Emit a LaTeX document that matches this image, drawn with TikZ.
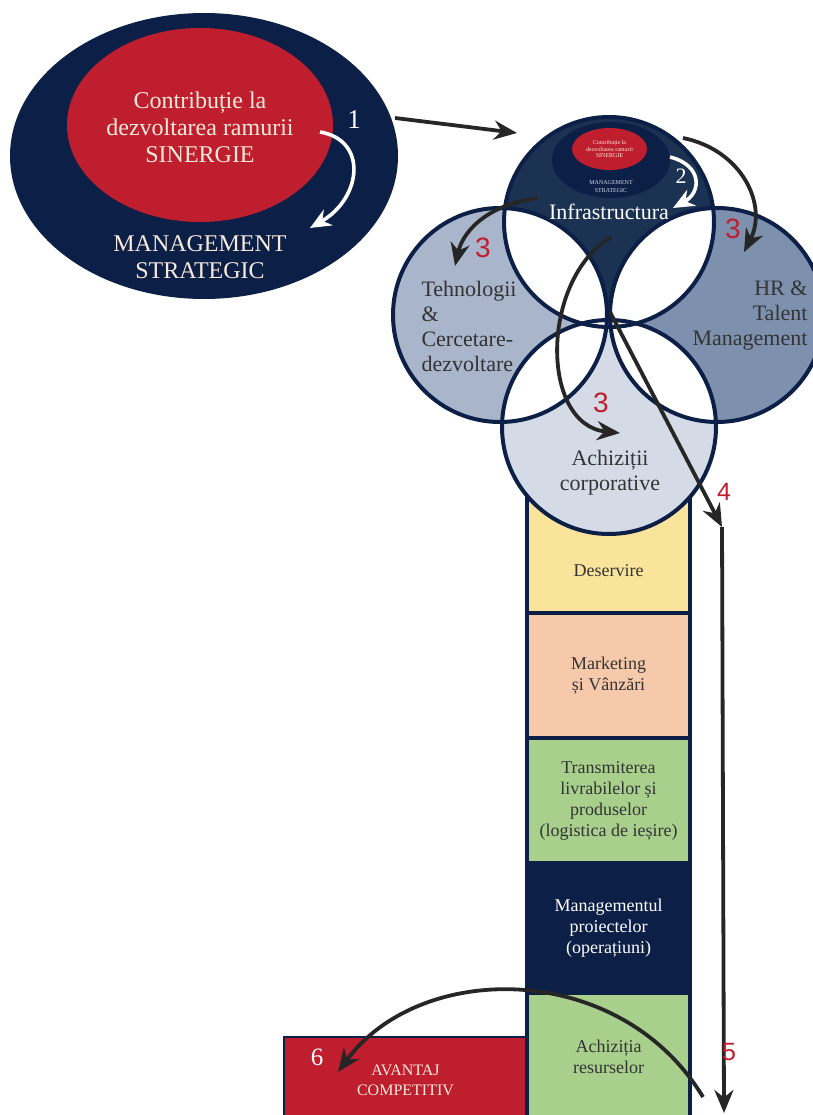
\documentclass[tikz,border=0pt]{standalone}
\usepackage{fontspec}
\setmainfont{Liberation Serif}
\newfontfamily\numfont{Liberation Sans}
\usepackage{xcolor}
\usetikzlibrary{arrows.meta,shapes.geometric,positioning}
\definecolor{sgnavy}{HTML}{0C1F47}
\definecolor{sgtop}{HTML}{1C3253}
\definecolor{sgred}{HTML}{BF1E2E}
\definecolor{sgcream}{HTML}{F8EADB}
\definecolor{sgleft}{HTML}{A8B5CA}
\definecolor{sgright}{HTML}{7D91AF}
\definecolor{sgbot}{HTML}{D4DBE6}
\definecolor{sgyellow}{HTML}{FAE49C}
\definecolor{sgpeach}{HTML}{F7C9AB}
\definecolor{sggreen}{HTML}{A9CF8D}
\definecolor{sgtext}{HTML}{333333}

\begin{document}
\begin{tikzpicture}[x=1pt, y=-1pt,
  stage/.style={draw=sgnavy, line width=3.2pt, minimum width=163pt, outer sep=0pt,
                inner sep=0pt, text=sgtext, align=center, font=\fontsize{18}{21}\selectfont},
  arr/.style={draw=black!85, line width=3.8pt, -{Stealth[length=23pt, width=19pt]}},
  warr/.style={draw=white, line width=3.6pt, -{Stealth[length=21pt, width=18pt]}},
  num/.style={text=sgred, font=\numfont\fontsize{28}{28}\selectfont},
  wnum/.style={text=white, font=\fontsize{27}{27}\selectfont},
  vlab/.style={text=sgtext, align=left, font=\fontsize{22}{25}\selectfont}]

  \useasboundingbox (0,0) rectangle (812,1115);

  % value chain
  \node[draw=sgnavy, line width=2.8pt, fill=sgred, minimum width=243pt, minimum height=86pt,
        anchor=north east, outer sep=0pt, text=sgcream, align=center,
        font=\fontsize{16}{20}\selectfont] (av) at (527,1037) {AVANTAJ\\COMPETITIV};
  \node[stage, fill=sgyellow, minimum height=133pt, anchor=north] (des) at (608.5,480) {};
  \node[stage, fill=sgpeach, minimum height=125pt, below=0pt of des] (mkt) {Marketing\\și Vânzări};
  \node[stage, fill=sggreen, minimum height=125pt, below=0pt of mkt] (trn)
       {Transmiterea\\livrabilelor și\\produselor\\(logistica de ieșire)};
  \node[stage, fill=sgnavy, text=white, minimum height=130pt, below=0pt of trn] (mgp)
       {Managementul\\proiectelor\\(operațiuni)};
  \node[stage, fill=sggreen, minimum height=130pt, below=0pt of mgp] (acz) {};
  \node[stage, draw=none, fill=none] (desl) at (608.5,571) {Deservire};
  \node[stage, draw=none, fill=none] (aczl) at (608.5,1057) {Achiziția\\resurselor};

  % activities
  \coordinate (tc) at (609,222);
  \coordinate (lc) at (500,315);
  \coordinate (rc) at (717,315);
  \coordinate (bc) at (609,427);
  \fill[sgtop] (tc) circle[radius=105pt];
  \fill[sgleft] (lc) circle[radius=107pt];
  \fill[sgright] (rc) circle[radius=107pt];
  \fill[sgbot] (bc) circle[radius=107pt];
  \foreach \a/\ra/\b/\rb in {tc/105/lc/107, tc/105/rc/107, bc/107/lc/107,
                             bc/107/rc/107, lc/107/rc/107, tc/105/bc/107}{
    \begin{scope}
      \clip (\a) circle[radius=\ra pt];
      \fill[white] (\b) circle[radius=\rb pt];
    \end{scope}}
  \foreach \c/\r in {tc/105, lc/107, rc/107, bc/107}{
    \draw[sgnavy, line width=4pt] (\c) circle[radius=\r pt];}

  \node[ellipse, fill=sgnavy, minimum width=118pt, minimum height=76pt] (ms) at (611,160) {};
  \node[ellipse, fill=sgred, minimum width=75pt, minimum height=42pt, inner sep=0pt,
        text=sgcream, align=center, font=\fontsize{6}{6.5}\selectfont] (cs) at (609.5,149)
       {Contribuție la\\dezvoltarea ramurii\\SINERGIE};
  \node[text=sgbot, align=center, font=\fontsize{6}{8}\selectfont] (mst) at (611,187)
       {MANAGEMENT\\STRATEGIC};
  \node[text=white, font=\fontsize{22}{25}\selectfont] (inf) at (609,212) {Infrastructura};
  \node[vlab, anchor=west] (teh) at (418,326) {Tehnologii\\\&\\Cercetare-\\dezvoltare};
  \node[vlab, anchor=east, align=right] (hr) at (811,316) {HR \&\\Talent\\Management};
  \node[vlab, align=center] (acp) at (610,473) {Achiziții\\corporative};

  % synergy
  \node[ellipse, fill=sgnavy, minimum width=388pt, minimum height=286pt] (sm) at (204,156) {};
  \node[ellipse, fill=sgred, minimum width=266pt, minimum height=194pt] (sg) at (200,125) {};
  \node[text=sgcream, align=center, font=\fontsize{24}{27}\selectfont] (sgt) at (200,127)
       {Contribuție la\\dezvoltarea ramurii\\SINERGIE};
  \node[text=sgcream, align=center, font=\fontsize{24}{27}\selectfont] (smt) at (200,257)
       {MANAGEMENT\\STRATEGIC};

  % flow
  \coordinate (w1s) at (320,132);
  \coordinate (w1e) at (310,228);
  \coordinate (a1s) at (395,118);
  \coordinate (a1e) at (517,133);
  \coordinate (w2s) at (670,157);
  \coordinate (w2e) at (673,208);
  \coordinate (a3ls) at (537,198);
  \coordinate (a3le) at (455,266);
  \coordinate (a3rs) at (683,138);
  \coordinate (a3re) at (744,252);
  \coordinate (a3bs) at (611,237);
  \coordinate (a3be) at (620,433);
  \coordinate (a4s) at (610,312);
  \coordinate (a4e) at (722,527);
  \coordinate (a5e) at (724,1113);
  \coordinate (a6s) at (703,1097);
  \coordinate (a6e) at (338,1072);

  \draw[warr] (w1s) .. controls (368,140) and (362,198) .. (w1e);
  \draw[arr] (a1s) -- (a1e);
  \draw[warr] (w2s) .. controls (702,165) and (702,192) .. (w2e);
  \draw[arr] (a3ls) .. controls (482,206) and (462,235) .. (a3le);
  \draw[arr] (a3rs) .. controls (742,150) and (768,205) .. (a3re);
  \draw[arr] (a3bs) .. controls (540,280) and (540,425) .. (a3be);
  \draw[arr] (a4s) -- (a4e);
  \draw[arr] (a4e) -- (a5e);
  \draw[arr] (a6s) .. controls (620,960) and (420,960) .. (a6e);

  \node[wnum] (n1) at (354,120) {1};
  \node[wnum, font=\fontsize{22}{22}\selectfont] (n2) at (681,176) {2};
  \node[num] (n3l) at (483,248) {3};
  \node[num] (n3r) at (733,229) {3};
  \node[num] (n3b) at (601,403) {3};
  \node[num, font=\numfont\fontsize{25}{25}\selectfont] (n4) at (724,492) {4};
  \node[num, font=\numfont\fontsize{25}{25}\selectfont] (n5) at (729,1052) {5};
  \node[wnum, font=\fontsize{25}{25}\selectfont] (n6) at (317,1057) {6};
\end{tikzpicture}
\end{document}
